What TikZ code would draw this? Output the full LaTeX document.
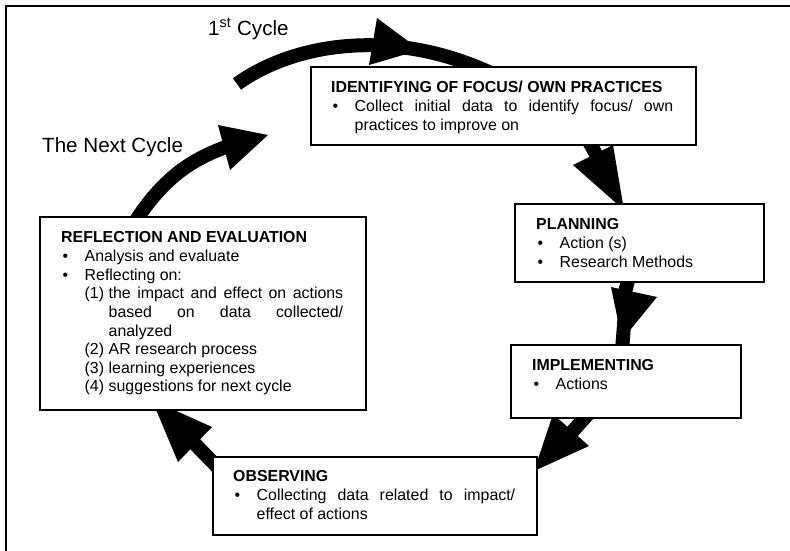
\documentclass[tikz,border=0pt]{standalone}
\usepackage{fontspec}
\setmainfont{Liberation Sans}
\tikzset{
  boxst/.style={draw=black, line width=1.6pt, fill=white, inner sep=0pt, anchor=north west},
  txt/.style={inner sep=0pt, anchor=base west, font=\fontsize{15.9}{18.6}\selectfont},
  lbl/.style={inner sep=0pt, anchor=base west, font=\fontsize{20.6}{24}\selectfont},
  band/.style={line width=14pt, draw=black},
  headst/.style={fill=black},
}
\newcommand{\bitm}[1]{\par\noindent\hangindent=23.5pt\hangafter=1\makebox[23.5pt][l]{\hspace{1.5pt}\textbullet}#1}
\newcommand{\nitm}[2]{\par\noindent\hangindent=47.5pt\hangafter=1\hspace*{23.5pt}\makebox[24pt][l]{#1}#2}
\newcommand{\hd}[1]{\noindent\textbf{#1}\par\vspace{1pt}}
\begin{document}
\begin{tikzpicture}[x=1pt,y=-1pt]
\useasboundingbox (0,0) rectangle (790,550);
\clip (0,0) rectangle (790,550);
\draw[line width=1.5pt] (6,6) rectangle (800,560);

% cycle arrows (drawn first, boxes cover them)
\draw[band] (237,84) .. controls (295,42) and (400,25) .. (505,80);
\fill[headst] (377,18) -- (369,65) -- (420,50) -- cycle;

\draw[band] (580,125) -- (598,158);
\fill[headst] (573,165) -- (613,145) -- (624,210) -- cycle;

\draw[band] (632,265) -- (623,300);
\fill[headst] (611,287) -- (657,297) -- (622,340) -- cycle;
\draw[band] (626,300) -- (622,350);

\draw[band] (605,395) -- (572,432);
\fill[headst] (589,446) -- (553,414) -- (534,471) -- cycle;

\draw[band] (228,478) -- (195,444);
\fill[headst] (212,427) -- (178,462) -- (152,400) -- cycle;

\draw[band] (130,230) .. controls (160,180) and (190,160) .. (226,147);
\fill[headst] (218,125) -- (230,170) -- (268,135) -- cycle;

% labels
\node[lbl] (first) at (208,35) {1\textsuperscript{st} Cycle};
\node[lbl] (next) at (42,152) {The Next Cycle};

% boxes
\node[boxst, minimum width=385pt, minimum height=78pt] (ident) at (310,66) {};
\node[txt] (identtxt) at (331,92) {\parbox[t]{342pt}{\hd{IDENTIFYING OF FOCUS/ OWN PRACTICES}\bitm{Collect initial data to identify focus/ own\linebreak practices to improve on}}};

\node[boxst, minimum width=249pt, minimum height=78pt] (plan) at (514,203) {};
\node[txt] (plantxt) at (536,229) {\parbox[t]{210pt}{\hd{PLANNING}\bitm{Action (s)}\bitm{Research Methods}}};

\node[boxst, minimum width=230pt, minimum height=73pt] (impl) at (510,344) {};
\node[txt] (impltxt) at (532,370) {\parbox[t]{190pt}{\hd{IMPLEMENTING}\bitm{Actions}}};

\node[boxst, minimum width=324pt, minimum height=78pt] (obs) at (212,456) {};
\node[txt] (obstxt) at (233,481) {\parbox[t]{282pt}{\hd{OBSERVING}\bitm{Collecting data related to impact/\linebreak effect of actions}}};

\node[boxst, minimum width=326pt, minimum height=193pt] (refl) at (39,216) {};
\node[txt] (refltxt) at (61,242) {\parbox[t]{282pt}{\hd{REFLECTION AND EVALUATION}\bitm{Analysis and evaluate}\bitm{Reflecting on:}\nitm{(1)}{the impact and effect on actions\linebreak based on data collected/\linebreak analyzed}\nitm{(2)}{AR research process}\nitm{(3)}{learning experiences}\nitm{(4)}{suggestions for next cycle}}};
\end{tikzpicture}
\end{document}
